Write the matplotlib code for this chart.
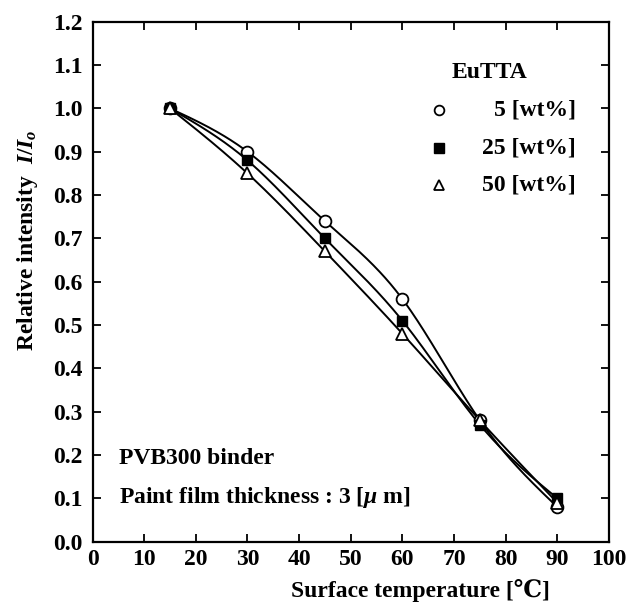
import numpy as np
import matplotlib
matplotlib.use("Agg")
import matplotlib.pyplot as plt

plt.rcParams['font.family'] = ['Liberation Serif', 'DejaVu Serif', 'Noto Sans CJK JP']
plt.rcParams['font.weight'] = 'bold'
plt.rcParams['mathtext.fontset'] = 'custom'
plt.rcParams['mathtext.it'] = 'Liberation Serif:italic:bold'
plt.rcParams['mathtext.rm'] = 'Liberation Serif:bold'

temps = [15, 30, 45, 60, 75, 90]
wt5 = [1.00, 0.90, 0.74, 0.56, 0.28, 0.08]
wt25 = [1.00, 0.88, 0.70, 0.51, 0.27, 0.10]
wt50 = [1.00, 0.85, 0.67, 0.48, 0.28, 0.09]
labels = ['5 [wt%]', '25 [wt%]', '50 [wt%]']
xticks = list(range(0, 101, 10))
yticks = [round(0.1 * i, 1) for i in range(13)]


def natural_spline(x, y, xs):
    x = np.asarray(x, float); y = np.asarray(y, float)
    n = len(x)
    h = np.diff(x)
    A = np.zeros((n, n)); b = np.zeros(n)
    A[0, 0] = 1; A[-1, -1] = 1
    for i in range(1, n - 1):
        A[i, i - 1] = h[i - 1]
        A[i, i] = 2 * (h[i - 1] + h[i])
        A[i, i + 1] = h[i]
        b[i] = 3 * ((y[i + 1] - y[i]) / h[i] - (y[i] - y[i - 1]) / h[i - 1])
    c = np.linalg.solve(A, b)
    out = np.empty_like(xs)
    for k, xv in enumerate(xs):
        i = min(max(np.searchsorted(x, xv) - 1, 0), n - 2)
        dx = xv - x[i]
        bi = (y[i + 1] - y[i]) / h[i] - h[i] * (2 * c[i] + c[i + 1]) / 3
        di = (c[i + 1] - c[i]) / (3 * h[i])
        out[k] = y[i] + bi * dx + c[i] * dx ** 2 + di * dx ** 3
    return out


W, H = 631, 605
def fx(px): return px / W
def fy(py): return 1 - py / H

fig = plt.figure(figsize=(6.31, 6.05), dpi=100)
L, R, T, B = 92.5, 609, 21.7, 541.7
ax = fig.add_axes([L / W, 1 - B / H, (R - L) / W, (B - T) / H])

xs = np.linspace(temps[0], temps[-1], 300)
for ys in (wt5, wt25, wt50):
    ax.plot(xs, natural_spline(temps, ys, xs), color='black', lw=1.4, zorder=2)

ax.plot(temps, wt5, 'o', ms=8.5, mfc='white', mec='black', mew=1.3, ls='none', zorder=3)
ax.plot(temps, wt25, 's', ms=7.5, mfc='black', mec='black', ls='none', zorder=4)
ax.plot(temps, wt50, '^', ms=9, mfc='white', mec='black', mew=1.3, ls='none', zorder=5)

ax.set_xlim(0, 100)
ax.set_ylim(0, 1.2)
ax.set_xticks(xticks)
ax.set_yticks(yticks)
ax.set_xticklabels([str(t) for t in xticks])
ax.set_yticklabels([f'{t:.1f}' for t in yticks])
ax.tick_params(direction='in', top=True, right=True, length=5.5, width=1.3,
               labelsize=17)
ax.tick_params(axis='y', pad=7)
ax.tick_params(axis='x', pad=5)
for lab in ax.get_xticklabels() + ax.get_yticklabels():
    lab.set_fontweight('bold')
for s in ax.spines.values():
    s.set_linewidth(1.6)

# legend (manual)
fig.text(fx(452), fy(73), 'EuTTA', fontsize=17, fontweight='bold', va='center', ha='left')
rows = [110, 148, 185]
for yy, lab, m in zip(rows, labels, ['o', 's', '^']):
    kw = dict(mfc='white', mec='black', mew=1.3) if m != 's' else dict(mfc='black', mec='black')
    ax.plot([fx(439)], [fy(yy)], m, ms=7 if m == 'o' else (6.5 if m == 's' else 7.5),
            transform=fig.transFigure, clip_on=False, **kw)
    fig.text(fx(576), fy(yy), lab, fontsize=17, fontweight='bold', va='center', ha='right')

fig.text(fx(119), fy(458), 'PVB300 binder', fontsize=17, fontweight='bold', va='center')
fig.text(fx(119), fy(498), 'Paint film thickness : 3 [$\\mu$ m]', fontsize=17,
         fontweight='bold', va='center')

fig.text(fx(420), fy(591), 'Surface temperature [℃]', fontsize=17, fontweight='bold',
         ha='center', va='center')
fig.text(fx(28), fy(240), 'Relative intensity  $I/I_o$', fontsize=17, fontweight='bold',
         rotation=90, ha='center', va='center')

fig.savefig('out.png', dpi=100)
